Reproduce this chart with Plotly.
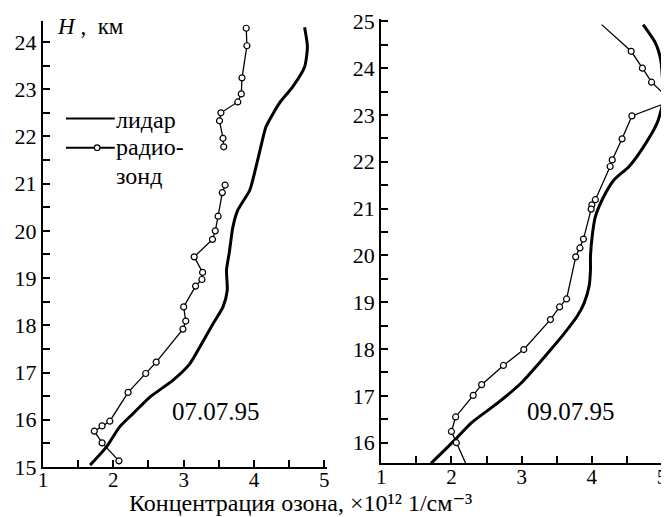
import plotly.graph_objects as go

# ---------------- data ----------------
# Left panel (07.07.95)
left_lidar_x = [4.72, 4.76, 4.72, 4.55, 4.36, 4.17, 4.12, 4.03, 3.94, 3.77, 3.70, 3.65,
                3.61, 3.62, 3.56, 3.42, 3.23, 3.09, 2.85, 2.52, 2.28, 2.09, 1.90, 1.67]
left_lidar_h = [24.31, 23.90, 23.47, 23.05, 22.70, 22.20, 21.92, 21.36, 20.86, 20.44, 20.08, 19.55,
                19.17, 18.74, 18.39, 18.04, 17.54, 17.19, 16.84, 16.48, 16.13, 15.85, 15.42, 15.04]

left_sonde_x = [3.89, 3.90, 3.83, 3.82, 3.77, 3.53, 3.51, 3.56, 3.57, None,
                3.59, 3.55, 3.49, 3.45, 3.41, 3.15, 3.27, 3.26, 3.17, 3.00, 3.03, 2.99,
                2.61, 2.46, 2.21, 1.95, 1.84, 1.73, 1.84, 2.08]
left_sonde_h = [24.29, 23.92, 23.24, 22.90, 22.73, 22.50, 22.33, 21.96, 21.78, None,
                20.97, 20.81, 20.31, 20.00, 19.82, 19.45, 19.12, 18.97, 18.83, 18.39, 18.09, 17.92,
                17.22, 16.98, 16.58, 15.97, 15.87, 15.76, 15.51, 15.13]

# Right panel (09.07.95)
right_lidar_x = [4.73, 4.905, 4.98, 5.01, 5.02, 4.93, 4.74, 4.53, 4.32, 4.17, 4.05, 4.01, 3.98,
                 3.98, 3.96, 3.89, 3.79, 3.61, 3.37, 2.99, 2.66, 2.28, 2.05, 1.71]
right_lidar_h = [24.93, 24.54, 24.18, 23.68, 23.33, 22.83, 22.33, 21.90, 21.62, 21.26, 20.83, 20.48, 19.98,
                 19.69, 19.34, 18.98, 18.70, 18.34, 17.91, 17.27, 16.85, 16.42, 16.06, 15.56]

right_sonde_x = [4.14, 4.56, 4.72, 4.85, 5.13, 4.57, 4.43, 4.29, 4.26, 4.05, 4.00, 3.99,
                 3.88, 3.83, 3.77, 3.64, 3.54, 3.41, 3.03, 2.74, 2.43, 2.31, 2.06, 2.00, 2.07, 2.28]
right_sonde_h = [24.93, 24.36, 24.00, 23.70, 23.30, 22.98, 22.49, 22.04, 21.90, 21.19, 21.08, 20.99,
                 20.35, 20.16, 19.97, 19.07, 18.90, 18.63, 17.99, 17.65, 17.24, 17.01, 16.55, 16.24, 16.00, 15.30]
right_sonde_has_circle = [False] + [True] * (len(right_sonde_x) - 1)

x_ticks = [1, 2, 3, 4, 5]
dates = ["07.07.95", "09.07.95"]
legend_labels = ["лидар", "радио-", "зонд"]
y_title = "<i>H</i>&nbsp;,&nbsp;&nbsp;км"
x_title = "Концентрация озона, ×10¹² 1/см⁻³"

# ---------------- figure ----------------
FONT = "Liberation Serif, Times New Roman, Times, DejaVu Serif, serif"
OFF = 8                      # default body margin of the html page
W, H = 669 - OFF, 517 - OFF
ML, MR, MT, MB = 43 - OFF, 0, 19 - OFF, 50
PW, PH = W - ML - MR, H - MT - MB


def px(sx):
    """screen x -> paper fraction"""
    return (sx - OFF - ML) / PW


def py(sy):
    """screen y -> paper fraction"""
    return (H - MB - (sy - OFF)) / PH


fig = go.Figure()

lidar_style = dict(color="black", width=3, shape="spline", smoothing=0.6)
sonde_line = dict(color="black", width=1.3)
marker = dict(symbol="circle", size=6, color="white", line=dict(color="black", width=1.2))

fig.add_trace(go.Scatter(x=left_lidar_x, y=left_lidar_h, mode="lines", line=lidar_style,
                         xaxis="x", yaxis="y", showlegend=False))
fig.add_trace(go.Scatter(x=left_sonde_x, y=left_sonde_h, mode="lines+markers", line=sonde_line,
                         marker=marker, connectgaps=False, xaxis="x", yaxis="y", showlegend=False))
fig.add_trace(go.Scatter(x=right_lidar_x, y=right_lidar_h, mode="lines", line=lidar_style,
                         xaxis="x2", yaxis="y2", showlegend=False))
fig.add_trace(go.Scatter(x=right_sonde_x, y=right_sonde_h, mode="lines+markers", line=sonde_line,
                         marker=dict(marker, opacity=[1 if c else 0 for c in right_sonde_has_circle]),
                         xaxis="x2", yaxis="y2", showlegend=False))

axis_common = dict(showline=True, linecolor="black", linewidth=2, ticks="inside", ticklen=7,
                   tickwidth=2, tickcolor="black", showgrid=False, zeroline=False,
                   tickfont=dict(family=FONT, size=22, color="black"))
xtickfont = dict(family=FONT, size=21, color="black")
minor = dict(ticks="inside", ticklen=7, tickwidth=2, tickcolor="black", dtick=0.5, showgrid=False)

fig.update_layout(
    width=W, height=H,
    margin=dict(l=ML, r=MR, t=MT, b=MB),
    paper_bgcolor="white", plot_bgcolor="white",
    font=dict(family=FONT, color="black"),
    xaxis=dict(axis_common, domain=[0, px(328)], range=[1, 5.04], tickvals=x_ticks,
               minor=minor, anchor="y", ticklabelstandoff=-7, tickfont=xtickfont),
    yaxis=dict(axis_common, domain=[0, py(20.7)], range=[15, 24.45], dtick=1, tick0=15,
               minor=minor, anchor="x"),
    xaxis2=dict(axis_common, domain=[px(382.3), 1], range=[1, 5.07], tickvals=x_ticks,
                minor=minor, anchor="y2", ticklabelstandoff=-7, tickfont=xtickfont),
    yaxis2=dict(axis_common, domain=[py(463.3), 1], range=[15.56, 25.05], dtick=1, tick0=15,
                minor=minor, anchor="x2"),
)

annotations = [
    dict(text=y_title, x=px(56), y=py(26), xanchor="left", yanchor="middle", size=23),
    dict(text=legend_labels[0], x=px(115), y=py(120), xanchor="left", yanchor="middle", size=24),
    dict(text=legend_labels[1], x=px(115), y=py(147), xanchor="left", yanchor="middle", size=24),
    dict(text=legend_labels[2], x=px(115), y=py(176), xanchor="left", yanchor="middle", size=24),
    dict(text=dates[0], x=px(217), y=py(411), xanchor="center", yanchor="middle", size=25),
    dict(text=dates[1], x=px(573), y=py(411), xanchor="center", yanchor="middle", size=25),
    dict(text=x_title, x=px(301), y=py(517), xanchor="center", yanchor="bottom", size=24),
]
for a in annotations:
    size = a.pop("size")
    fig.add_annotation(a, xref="paper", yref="paper", showarrow=False, borderpad=0,
                       font=dict(family=FONT, size=size, color="black"))

# legend glyphs
fig.add_shape(type="line", xref="paper", yref="paper", x0=px(66), x1=px(115), y0=py(118.5), y1=py(118.5),
              line=dict(color="black", width=2))
fig.add_shape(type="line", xref="paper", yref="paper", x0=px(66), x1=px(115), y0=py(147.7), y1=py(147.7),
              line=dict(color="black", width=2))
r = 2.8
fig.add_shape(type="circle", xref="paper", yref="paper", x0=px(97.3 - r), x1=px(97.3 + r),
              y0=py(147.7 + r), y1=py(147.7 - r), fillcolor="white", line=dict(color="black", width=1.2))

fig.write_html("out.html")
